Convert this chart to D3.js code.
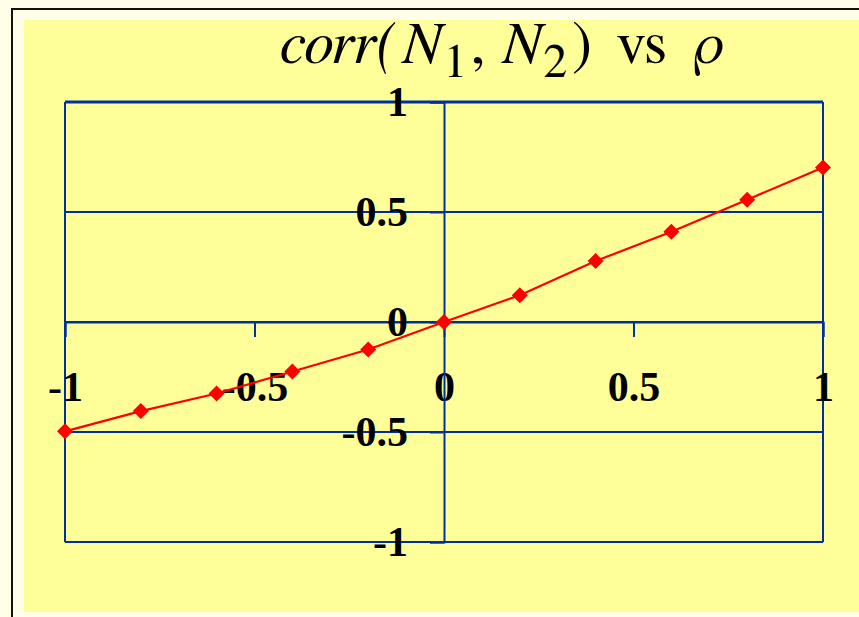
<!DOCTYPE html>
<html>
<head>
<meta charset="utf-8">
<script src="https://cdn.jsdelivr.net/npm/d3@7"></script>
<style>
  body { margin: 0; background: #fffee8; }
  svg { display: block; }
  .ttl { font-family: "FreeSerif", "Liberation Serif", serif; }
</style>
</head>
<body>
<div id="chart"></div>
<script>
// rho values on the x axis and the measured correlation
var rho = [-1, -0.8, -0.6, -0.4, -0.2, 0, 0.2, 0.4, 0.6, 0.8, 1];
var corrN = [-0.497, -0.405, -0.325, -0.225, -0.125, 0, 0.122, 0.277, 0.41, 0.556, 0.702];
var xTicks = [-1, -0.5, 0, 0.5, 1];
var yTicks = [-1, -0.5, 0, 0.5, 1];

var W = 859, H = 617;
var blue = "#0030a0";
var serif = "'Liberation Serif', 'Times New Roman', serif";

var svg = d3.select("#chart")
  .append("svg")
    .attr("width", W)
    .attr("height", H);

// outer frame + yellow panel
svg.append("rect")
  .attr("x", 0).attr("y", 0).attr("width", W).attr("height", H)
  .attr("fill", "#fffee8");
svg.append("path")
  .attr("d", "M12," + H + "V9H" + W)
  .attr("fill", "none")
  .attr("stroke", "#111")
  .attr("stroke-width", 2);
svg.append("rect")
  .attr("x", 24).attr("y", 20).attr("width", W - 24).attr("height", 592)
  .attr("fill", "#ffff99");

// title, set like an equation: pieces flowed left to right
var titleParts = [
  {t: "corr(", it: true,  sub: false, gap: 3},
  {t: "N",     it: true,  sub: false, gap: 1},
  {t: "1",     it: false, sub: true,  gap: 2},
  {t: ",",     it: false, sub: false, gap: 10},
  {t: "N",     it: true,  sub: false, gap: 1},
  {t: "2",     it: false, sub: true,  gap: 3},
  {t: ")",     it: false, sub: false, gap: 16},
  {t: "vs",    it: false, sub: false, gap: 18},
  {t: "\u03c1", it: true, sub: false, gap: 0}
];
var tEls = svg.append("g")
  .selectAll("text")
  .data(titleParts)
  .join("text")
    .attr("class", "ttl")
    .attr("y", function(d) { return d.sub ? 77 : 63 })
    .style("font-size", function(d) { return d.sub ? "48px" : "60px" })
    .style("font-style", function(d) { return d.it ? "italic" : "normal" })
    .attr("fill", "#000")
    .text(function(d) { return d.t });

var widths = tEls.nodes().map(function(n) { return n.getComputedTextLength() });
var gapSum = d3.sum(titleParts, function(d) { return d.gap });
var natural = d3.sum(widths) + gapSum;
var stretch = Math.max(0.5, 1 + (445 - natural) / gapSum);
var tx = 280;
tEls.attr("x", function(d, i) {
  var at = tx;
  tx += widths[i] + d.gap * stretch;
  return at;
});

var x = d3.scaleLinear()
  .domain([-1, 1])
  .range([65, 823]);

var y = d3.scaleLinear()
  .domain([-1, 1])
  .range([542, 102]);

// horizontal gridlines
svg.append("g")
  .selectAll("line")
  .data(yTicks)
  .join("line")
    .attr("x1", x(-1))
    .attr("x2", x(1))
    .attr("y1", function(d) { return y(d) })
    .attr("y2", function(d) { return y(d) })
    .attr("stroke", blue)
    .attr("stroke-width", function(d) { return d == 1 ? 3 : 2 });

// plot area sides
svg.append("g")
  .selectAll("line")
  .data([-1, 1])
  .join("line")
    .attr("x1", function(d) { return x(d) })
    .attr("x2", function(d) { return x(d) })
    .attr("y1", y(1))
    .attr("y2", y(-1))
    .attr("stroke", blue)
    .attr("stroke-width", 2);

// axes crossing at zero
var fmt = function(d) { return String(d) };

var xAxis = svg.append("g")
  .attr("transform", "translate(0," + y(0) + ")")
  .call(d3.axisBottom(x).tickValues(xTicks).tickSize(15).tickFormat(fmt));

var yAxis = svg.append("g")
  .attr("transform", "translate(" + x(0) + ",0)")
  .call(d3.axisLeft(y).tickValues(yTicks).tickSize(14).tickPadding(22).tickFormat(fmt));

[xAxis, yAxis].forEach(function(g) {
  g.select(".domain").attr("stroke", blue).attr("stroke-width", 2);
  g.selectAll(".tick line").attr("stroke", blue).attr("stroke-width", 2);
  g.selectAll(".tick text")
    .attr("fill", "#000")
    .style("font-family", serif)
    .style("font-weight", "bold")
    .style("font-size", "42px");
});

xAxis.selectAll(".tick text")
  .attr("y", 79)
  .attr("dy", 0);

// data line + diamonds
svg.append("path")
  .datum(rho)
  .attr("fill", "none")
  .attr("stroke", "#ff0000")
  .attr("stroke-width", 2.2)
  .attr("d", d3.line()
    .x(function(d) { return x(d) })
    .y(function(d, i) { return y(corrN[i]) })
  );

svg.append("g")
  .selectAll("path")
  .data(rho)
  .join("path")
    .attr("transform", function(d, i) { return "translate(" + x(d) + "," + y(corrN[i]) + ")" })
    .attr("d", "M0,-8L8,0L0,8L-8,0Z")
    .attr("fill", "#ff0000");
</script>
</body>
</html>
